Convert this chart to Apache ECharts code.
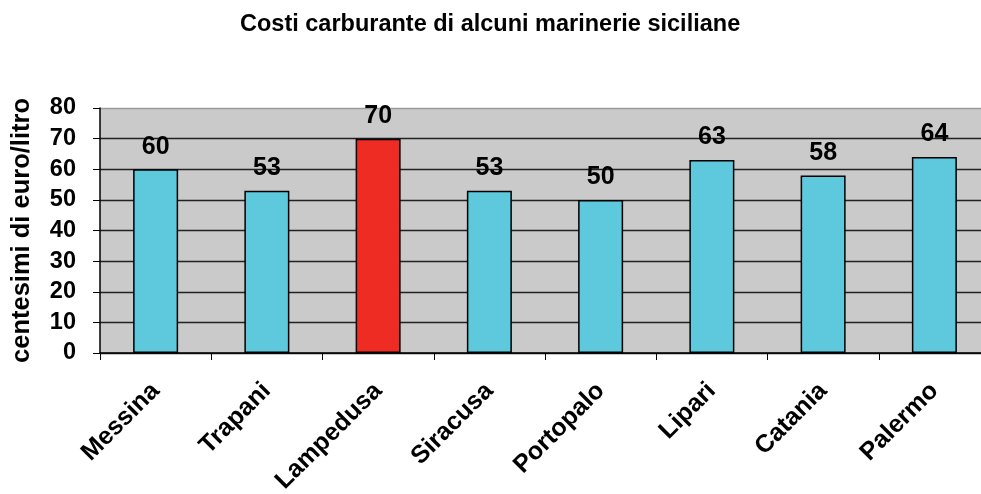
<!DOCTYPE html>
<html>
<head>
<meta charset="utf-8">
<script src="https://cdn.jsdelivr.net/npm/echarts@6/dist/echarts.min.js"></script>
<style>
html,body{margin:0;padding:0;background:#fff;overflow:hidden;width:981px;height:494px;}
#c{width:990px;height:494px;}
</style>
</head>
<body>
<div id="c"></div>
<script>
var titleText = 'Costi carburante di alcuni marinerie siciliane';
var yAxisName = 'centesimi di euro/litro';
var categories = ['Messina','Trapani','Lampedusa','Siracusa','Portopalo','Lipari','Catania','Palermo'];
var values = [60, 53, 70, 53, 50, 63, 58, 64];
var highlightCategory = 'Lampedusa';
var yTicks = [0, 10, 20, 30, 40, 50, 60, 70, 80];

var FONT = '"Liberation Sans", Arial, sans-serif';
var chart = echarts.init(document.getElementById('c'), null, {renderer: 'canvas'});
var gridColors = yTicks.map(function (t, i) { return i === yTicks.length - 1 ? '#9a9a9a' : '#222'; });

chart.setOption({
  animation: false,
  backgroundColor: '#ffffff',
  title: {
    text: titleText,
    left: 235,
    top: 8,
    textStyle: {fontFamily: FONT, fontWeight: 'bold', fontSize: 23.5, color: '#000'}
  },
  grid: {left: 100, right: 0, top: 108, bottom: 141, containLabel: false, outerBoundsMode: 'none',
         show: true, backgroundColor: '#cacaca', borderWidth: 0},
  xAxis: {
    type: 'category',
    data: categories,
    axisLine: {show: true, lineStyle: {color: '#000', width: 1.5}},
    axisTick: {show: true, length: 7, lineStyle: {color: '#000', width: 1}},
    axisLabel: {rotate: 45, margin: 34, fontFamily: FONT, fontWeight: 'bold', fontSize: 25, color: '#000', interval: 0},
    splitLine: {show: false}
  },
  yAxis: {
    type: 'value',
    min: yTicks[0],
    max: yTicks[yTicks.length - 1],
    interval: 10,
    name: yAxisName,
    nameLocation: 'middle',
    nameGap: 65,
    nameTextStyle: {fontFamily: FONT, fontWeight: 'bold', fontSize: 25.5, color: '#000'},
    axisLine: {show: true, lineStyle: {color: '#000', width: 1.5}},
    axisTick: {show: true, inside: false, length: 7, lineStyle: {color: '#000', width: 1}},
    axisLabel: {margin: 24, fontFamily: FONT, fontWeight: 'bold', fontSize: 23.5, color: '#000'},
    splitLine: {show: true, lineStyle: {color: gridColors, width: 1.3}}
  },
  series: [{
    type: 'bar',
    barWidth: 45,
    data: values.map(function (v, i) {
      return {
        value: v,
        itemStyle: {color: categories[i] === highlightCategory ? '#ee2c24' : '#5ec8dc'}
      };
    }),
    itemStyle: {borderColor: '#000', borderWidth: 1.5},
    label: {show: true, position: 'top', distance: 10, fontFamily: FONT, fontWeight: 'bold', fontSize: 25, color: '#000'}
  }]
});
</script>
</body>
</html>
